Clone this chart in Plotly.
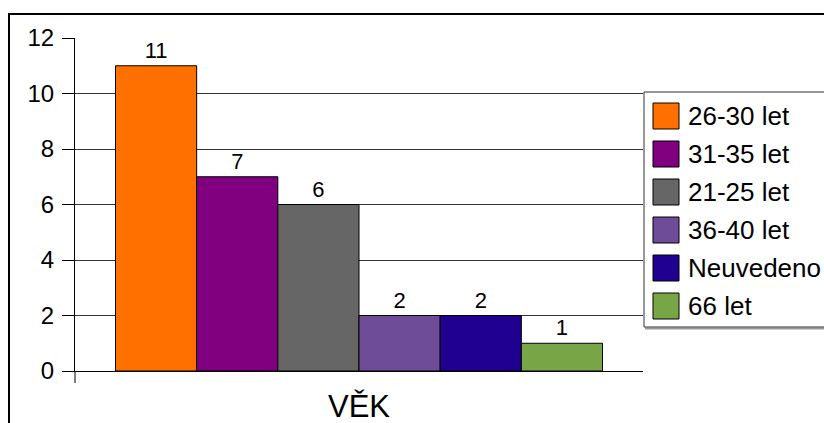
import plotly.graph_objects as go

# Age groups of respondents (category: VĚK)
age_groups = ["26-30 let", "31-35 let", "21-25 let", "36-40 let", "Neuvedeno", "66 let"]
counts = [11, 7, 6, 2, 2, 1]
colors = ["#FF7000", "#800080", "#666666", "#6E4C98", "#200090", "#78A646"]
category = "VĚK"
y_ticks = [0, 2, 4, 6, 8, 10, 12]

FONT = "Liberation Sans, Arial, sans-serif"
W, H = 824, 423
L, R, T, B = 75, 181, 38, 52
PW, PH = W - L - R, H - T - B


def px(x):
    return (x - L) / PW


def py(y):
    return (H - B - y) / PH


label_font = dict(family=FONT, size=22, color="#000000")

fig = go.Figure()
for name, val, col in zip(age_groups, counts, colors):
    fig.add_trace(go.Bar(
        x=[category], y=[val], name=name,
        marker=dict(color=col, line=dict(color="#000000", width=1)),
        text=[str(val)], textposition="outside", constraintext="none",
        textfont=label_font, outsidetextfont=label_font, textangle=0,
        cliponaxis=False, showlegend=False,
    ))

shapes = []
# outer frame of the chart
shapes.append(dict(type="rect", xref="paper", yref="paper",
                   x0=px(9), x1=px(840), y0=py(440), y1=py(14),
                   line=dict(color="#000000", width=2), layer="below"))
# y axis line continues a little below zero
shapes.append(dict(type="line", xref="paper", yref="paper",
                   x0=0, x1=0, y0=py(H - B), y1=py(383),
                   line=dict(color="#000000", width=1)))

# legend box with drop shadow
lx0, ly0, ly1 = 644, 92, 327
shapes.append(dict(type="line", xref="paper", yref="paper",
                   x0=px(lx0 + 1), x1=px(840), y0=py(ly1 + 1.5), y1=py(ly1 + 1.5),
                   line=dict(color="#999999", width=2)))
shapes.append(dict(type="rect", xref="paper", yref="paper",
                   x0=px(lx0), x1=px(840), y0=py(ly1), y1=py(ly0),
                   line=dict(color="#333333", width=1), fillcolor="#FFFFFF"))

annotations = []
for i, (name, col) in enumerate(zip(age_groups, colors)):
    cy = 116 + 38 * i
    shapes.append(dict(type="rect", xref="paper", yref="paper",
                       x0=px(653), x1=px(679), y0=py(cy + 13), y1=py(cy - 13),
                       line=dict(color="#000000", width=1), fillcolor=col))
    annotations.append(dict(x=px(686), y=py(cy), xref="paper", yref="paper",
                            text=name, showarrow=False, xanchor="left", yanchor="middle",
                            font=dict(family=FONT, size=26, color="#000000")))

fig.update_layout(
    width=W, height=H,
    margin=dict(l=L, r=R, t=T, b=B, pad=0, autoexpand=False),
    paper_bgcolor="#FFFFFF", plot_bgcolor="#FFFFFF",
    barmode="group", bargap=0.1426, bargroupgap=0,
    font=dict(family=FONT, color="#000000"),
    shapes=shapes, annotations=annotations,
    showlegend=False,
)
fig.update_xaxes(
    type="category", showline=True, linecolor="#000000", linewidth=1,
    ticks="", showgrid=False, tickfont=dict(family=FONT, size=31, color="#000000"),
    ticklabelstandoff=8, automargin=False,
)
fig.update_yaxes(
    range=[0, 12], tickvals=y_ticks, showline=True, linecolor="#000000", linewidth=1,
    ticks="outside", ticklen=12, tickcolor="#000000", tickwidth=1,
    showgrid=True, gridcolor="#333333", gridwidth=1, zeroline=False,
    tickfont=dict(family=FONT, size=24, color="#000000"), ticklabelstandoff=3,
    automargin=False,
)

fig.write_html("out.html")
